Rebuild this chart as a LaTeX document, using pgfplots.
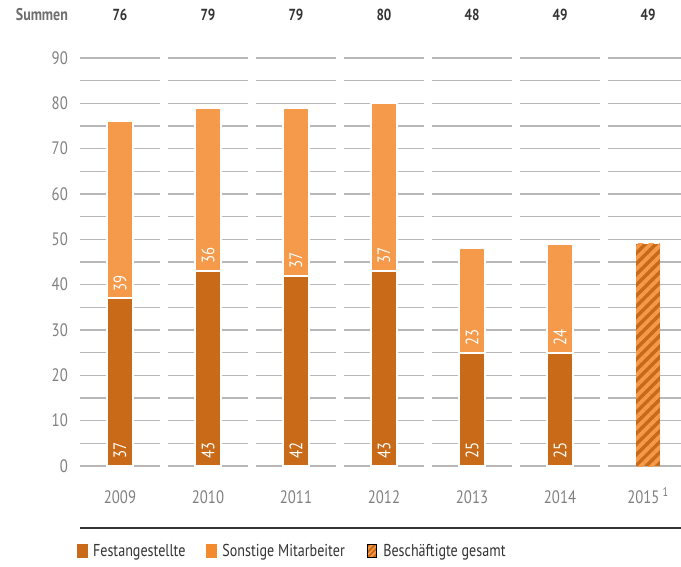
\documentclass[border=0pt]{standalone}
\usepackage{fontspec}
\setmainfont{PT Sans}[FakeStretch=0.82]
\usepackage{pgfplots}
\pgfplotsset{compat=1.18}
\usetikzlibrary{patterns.meta}
\definecolor{dorange}{HTML}{C96A18}
\definecolor{lorange}{HTML}{F5994A}
\definecolor{legorange}{HTML}{F48A2E}
\definecolor{tickgray}{HTML}{7F7F7F}
\definecolor{gridgray}{HTML}{B8B8B8}
\definecolor{textdark}{HTML}{333333}
\definecolor{sumgray}{HTML}{6E6E6E}

\begin{document}
\begin{tikzpicture}
\path[use as bounding box] (0,0) rectangle (681pt,566pt);
\begin{axis}[
  at={(80pt,100pt)}, anchor=south west,
  x=88pt, y=4.5333pt,
  xmin=-0.4545, xmax=6.4545, ymin=0, ymax=90,
  clip=false,
  axis line style={draw=none},
  major tick length=0pt, minor tick length=0pt,
  ytick={0,10,...,90}, minor ytick={5,15,...,85},
  ymajorgrids, yminorgrids,
  major grid style={gridgray, line width=1.2pt},
  minor grid style={gridgray, line width=1.2pt},
  xtick={0,...,6},
  xticklabels={2009,2010,2011,2012,2013,2014,{2015\,\textsuperscript{1}}},
  tick label style={font=\fontsize{18}{20}\selectfont, text=tickgray},
  xticklabel style={anchor=base, yshift=-37pt, inner sep=0pt},
  yticklabel style={anchor=east, xshift=-12pt, inner sep=0pt},
  /pgf/number format/assume math mode=true,
  legend style={at={(0,0)}, anchor=west, xshift=-3pt, yshift=-85pt,
    draw=none, fill=none, inner sep=0pt, legend columns=3,
    font=\fontsize{17.2}{20}\selectfont, text=textdark,
    nodes={inner sep=0pt},
    /tikz/every odd column/.append style={column sep=6pt},
    /tikz/every even column/.append style={column sep=21pt}},
  legend cell align=left,
]
% gaps in the grid lines between categories
\pgfplotsinvokeforeach{0.5,1.5,2.5,3.5,4.5,5.5}{
  \draw[white, line width=8pt] (axis cs:#1,-2) -- (axis cs:#1,92);
}
% totals (light part shows Sonstige Mitarbeiter)
\addplot[ybar, bar width=26pt, bar shift=0pt, fill=lorange, draw=white, line width=2pt, forget plot]
  coordinates {(0,76) (1,79) (2,79) (3,80) (4,48) (5,49)};
% Festangestellte
\addplot[ybar, bar width=26pt, bar shift=0pt, fill=dorange, draw=white, line width=2pt, forget plot]
  coordinates {(0,37) (1,43) (2,42) (3,43) (4,25) (5,25)};
% Beschaeftigte gesamt 2015
\addplot[ybar, bar width=24pt, bar shift=0pt, fill=dorange, draw=none, forget plot,
  postaction={pattern={Lines[angle=45,distance=7.5pt,line width=3.8pt]}, pattern color=lorange}]
  coordinates {(6,49)};
% labels inside bars
\addplot[draw=none, mark=none, forget plot, nodes near coords, point meta=explicit symbolic,
  every node near coord/.append style={rotate=90, anchor=west, inner xsep=7pt, inner ysep=0pt,
    text=white, font=\fontsize{18}{20}\selectfont}]
  table[meta=lab] {
x y lab
0 0 37
1 0 43
2 0 42
3 0 43
4 0 25
5 0 25
0 37 39
1 43 36
2 42 37
3 43 37
4 25 23
5 25 24
};
% sums on top
\addplot[draw=none, mark=none, forget plot, nodes near coords, point meta=explicit symbolic,
  every node near coord/.append style={anchor=base, inner sep=0pt,
    text=textdark, font=\bfseries\fontsize{16}{18}\selectfont}]
  table[meta=lab] {
x y lab
0 98.2 76
1 98.2 79
2 98.2 79
3 98.2 80
4 98.2 48
5 98.2 49
6 98.2 49
};
\node[anchor=base east, inner sep=0pt, text=sumgray, font=\bfseries\fontsize{17}{19}\selectfont]
  at (axis cs:-0.59,98.2) {Summen};
% rule above legend
\draw[textdark, line width=1.3pt] (axis cs:-0.4545,-13.68) -- (axis cs:6.4545,-13.68);
% legend
\addlegendimage{legend image code/.code={\fill[dorange] (0pt,-6.3pt) rectangle (9.5pt,6.5pt);}}
\addlegendentry{Festangestellte}
\addlegendimage{legend image code/.code={\fill[legorange] (0pt,-6.3pt) rectangle (9.5pt,6.5pt);}}
\addlegendentry{Sonstige Mitarbeiter}
\addlegendimage{legend image code/.code={\fill[dorange] (0pt,-6.3pt) rectangle (9.5pt,6.5pt);
  \fill[pattern={Lines[angle=45,distance=4pt,line width=2pt]}, pattern color=lorange] (0pt,-6.3pt) rectangle (9.5pt,6.5pt);}}
\addlegendentry{Beschäftigte gesamt}
\end{axis}
\end{tikzpicture}
\end{document}
